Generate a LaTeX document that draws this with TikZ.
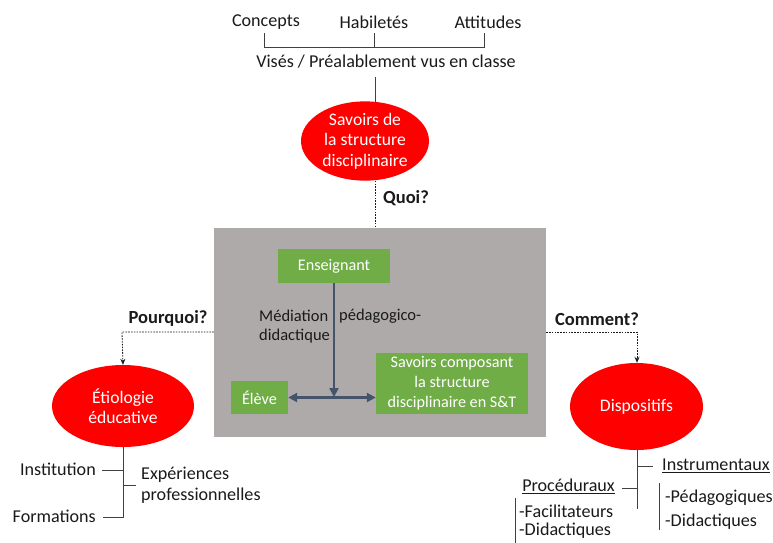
\documentclass[tikz,border=0pt]{standalone}
\usepackage{fontspec}
\setmainfont{Carlito}
\usetikzlibrary{arrows.meta,shapes.geometric,calc}
\definecolor{txt}{HTML}{1A1A1A}
\definecolor{boxgray}{HTML}{AEAAAA}
\definecolor{grn}{HTML}{70AD47}
\definecolor{arr}{HTML}{44546A}
\definecolor{ln}{HTML}{404040}
\tikzset{
  lbl/.style={inner sep=0pt, text=txt, font=\fontsize{18.1}{21.5}\selectfont},
  inlbl/.style={inner sep=0pt, text=txt, font=\fontsize{16.5}{20}\selectfont},
  qlbl/.style={inner sep=0pt, text=txt, font=\fontsize{18.5}{21}\selectfont\bfseries},
  redell/.style={ellipse, fill=red, draw=none, text=white, align=center, inner sep=0pt, font=\fontsize{17.6}{20.5}\selectfont},
  grnbox/.style={rectangle, fill=grn, draw=none, text=white, align=center, inner sep=0pt, font=\fontsize{16.2}{20}\selectfont},
  brk/.style={draw=ln, line width=0.9pt},
  dsh/.style={draw=txt, line width=0.8pt, dash pattern=on 1.6pt off 1.2pt},
  dtip/.style={-{Stealth[length=6pt,width=5pt]}},
  bigarr/.style={draw=arr, line width=2.6pt}
}
\begin{document}
\begin{tikzpicture}[x=1pt,y=-1pt]
\useasboundingbox (0,0) rectangle (773,542);
% top
\node[lbl] (conc) at (266,22) {Concepts};
\node[lbl] (hab) at (374,22) {Habiletés};
\node[lbl] (att) at (488,22) {Attitudes};
\coordinate (b1) at (264,33);
\coordinate (b2) at (374,33);
\coordinate (b3) at (484,33);
\draw[brk] (b1) -- ++(0,14) -| (b3);
\draw[brk] (b2) -- ++(0,14);
\node[lbl] (vises) at (386,62) {Visés / Préalablement vus en classe};
\node[redell, minimum width=128pt, minimum height=78pt] (sav) at (365,141) {Savoirs de\\la structure\\disciplinaire};
\coordinate (vb) at (375,77);
\draw[brk] (vb) -- (375,102);
% box
\node[rectangle, fill=boxgray, draw=none, minimum width=332pt, minimum height=209pt, inner sep=0pt] (box) at (380,332.5) {};
\draw[dsh] (sav.south -| 375,0) -- (375,228);
\node[qlbl] (quoi) at (406,198) {Quoi?};
% inside
\node[grnbox, minimum width=112pt, minimum height=34pt] (ens) at (334,266) {Enseignant};
\node[grnbox, minimum width=57pt, minimum height=33pt] (elv) at (259.5,397.5) {Élève};
\node[grnbox, minimum width=152pt, minimum height=61pt] (savc) at (452,383.5) {Savoirs composant\\la structure\\disciplinaire en S\&T};
\node[inlbl, anchor=west] (med) at (259,316) {Médiation};
\node[inlbl, anchor=west] (did) at (259,336) {didactique};
\node[inlbl, anchor=west] (ped) at (339,316) {pédagogico-};
\coordinate (mid) at (334,397);
\draw[bigarr, -{Triangle[length=9pt,width=9pt]}] (ens.south) -- (mid);
\draw[bigarr, {Triangle[length=9pt,width=9pt]}-{Triangle[length=9pt,width=9pt]}] (elv.east) -- (elv.east -| savc.west);
% left
\node[qlbl] (pq) at (168,318) {Pourquoi?};
\node[redell, minimum width=142pt, minimum height=82pt] (eti) at (123,406) {Étiologie\\éducative};
\draw[dsh, dtip] (box.west |- 0,332) -- (122,332) -- (eti.north);
\coordinate (lb) at (123,518);
\draw[brk] (eti.south) -- (lb);
\node[lbl, anchor=east] (inst) at (96,469) {Institution};
\node[lbl, anchor=east] (form) at (96,516) {Formations};
\node[lbl, anchor=west, align=left] (exp) at (141,485) {Expériences\\professionnelles};
\draw[brk] (102,470) -- (123,470);
\draw[brk] (103,517) -- (123,517);
\draw[brk] (123,485) -- (136,485);
% right
\node[qlbl] (cm) at (597,319) {Comment?};
\node[redell, minimum width=133pt, minimum height=87pt] (disp) at (636.5,406.5) {Dispositifs};
\draw[dsh, dtip] (box.east |- 0,332) -- (637,332) -- (disp.north -| 637,0);
\coordinate (rb) at (637,509);
\draw[brk] (disp.south -| 637,0) -- (rb);
\node[lbl, anchor=west] (instr) at (662,466) {\underline{Instrumentaux}};
\node[lbl, anchor=east] (proc) at (615,486) {\underline{Procéduraux}};
\draw[brk] (637,466) -- (653,466);
\draw[brk] (622,488) -- (637,488);
\draw[brk] (659,483) -- (659,530);
\node[lbl, anchor=west] (ped2) at (665,498) {-Pédagogiques};
\node[lbl, anchor=west] (did2) at (665,522) {-Didactiques};
\draw[brk] (515,498) -- (515,545);
\node[lbl, anchor=west] (fac) at (519,511) {-Facilitateurs};
\node[lbl, anchor=west] (did3) at (519,531) {-Didactiques};
\end{tikzpicture}
\end{document}
